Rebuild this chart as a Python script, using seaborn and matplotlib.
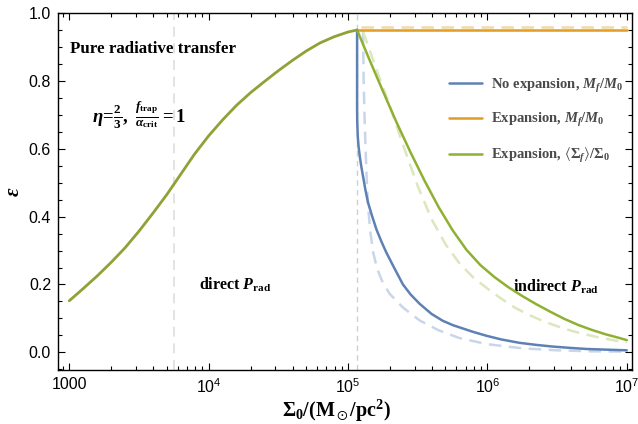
import numpy as np
import pandas as pd
import matplotlib
matplotlib.use("Agg")
import matplotlib.pyplot as plt
import seaborn as sns
from matplotlib.ticker import LogLocator, FixedLocator, MultipleLocator, NullFormatter

# ---------------- data (x given as log10 of Sigma_0) ----------------
rise_logx = [3.0, 3.1, 3.2, 3.3, 3.4, 3.5, 3.6, 3.7, 3.8, 3.9, 4.0, 4.1, 4.2, 4.3, 4.4,
             4.5, 4.6, 4.7, 4.8, 4.9, 5.0, 5.065]
rise_y = [0.152, 0.188, 0.225, 0.265, 0.308, 0.357, 0.410, 0.465, 0.525, 0.585, 0.638, 0.685,
          0.728, 0.765, 0.798, 0.830, 0.860, 0.888, 0.912, 0.930, 0.944, 0.950]

blue_logx = [5.065, 5.065, 5.065, 5.066, 5.070, 5.076, 5.084, 5.095, 5.108, 5.125, 5.143, 5.17,
             5.204, 5.24, 5.275, 5.33, 5.394, 5.45, 5.514, 5.6, 5.68, 5.753, 5.9, 5.992, 6.1,
             6.231, 6.35, 6.47, 6.6, 6.709, 6.85, 7.0]
blue_y = [0.950, 0.800, 0.720, 0.680, 0.635, 0.605, 0.578, 0.548, 0.518, 0.478, 0.442, 0.405,
          0.362, 0.326, 0.294, 0.250, 0.200, 0.170, 0.143, 0.113, 0.093, 0.080, 0.060, 0.049,
          0.038, 0.028, 0.022, 0.017, 0.013, 0.010, 0.008, 0.006]

blue_d_logx = [5.108, 5.112, 5.118, 5.126, 5.135, 5.146, 5.160, 5.18, 5.21, 5.25, 5.30, 5.394,
               5.514, 5.65, 5.8, 6.0, 6.25, 6.5, 6.75, 7.0]
blue_d_y = [0.945, 0.800, 0.700, 0.600, 0.500, 0.420, 0.355, 0.295, 0.245, 0.205, 0.172, 0.132,
            0.094, 0.065, 0.042, 0.024, 0.012, 0.006, 0.003, 0.002]

orange_logx = [5.065, 7.0]
orange_y = [0.951, 0.951]
orange_d_logx = [5.09, 7.0]
orange_d_y = [0.958, 0.958]

green_logx = [5.065, 5.15, 5.25, 5.35, 5.45, 5.55, 5.65, 5.75, 5.85, 5.95, 6.05, 6.15, 6.25,
              6.35, 6.45, 6.55, 6.65, 6.75, 6.85, 6.95, 7.0]
green_y = [0.950, 0.866, 0.770, 0.676, 0.588, 0.505, 0.428, 0.360, 0.302, 0.257, 0.222, 0.192,
           0.166, 0.142, 0.120, 0.099, 0.081, 0.066, 0.053, 0.042, 0.036]

green_d_logx = [5.108, 5.2, 5.3, 5.4, 5.5, 5.6, 5.7, 5.8, 5.9, 6.0, 6.1, 6.2, 6.3, 6.4, 6.5,
                6.6, 6.7, 6.8, 6.9, 7.0]
green_d_y = [0.945, 0.838, 0.726, 0.605, 0.490, 0.392, 0.318, 0.262, 0.220, 0.188, 0.158, 0.131,
             0.110, 0.092, 0.077, 0.064, 0.053, 0.044, 0.036, 0.029]

vlines_x = [5600, 116000]

labels = [r"No expansion, $M_f/M_0$", r"Expansion, $M_f/M_0$",
          r"Expansion, $\langle\Sigma_f\rangle/\Sigma_0$"]
xtick_vals = [1000, 1e4, 1e5, 1e6, 1e7]
xtick_labels = ["1000", r"$\mathsf{10^{4}}$", r"$\mathsf{10^{5}}$", r"$\mathsf{10^{6}}$",
                r"$\mathsf{10^{7}}$"]
ytick_vals = [0.0, 0.2, 0.4, 0.6, 0.8, 1.0]


def sig(logx):
    return 10.0 ** np.asarray(logx)


# ---------------- style ----------------
sns.set_theme(style="white")
plt.rcParams["font.family"] = ["Liberation Sans", "DejaVu Sans"]
plt.rcParams["text.color"] = "black"
plt.rcParams["axes.labelcolor"] = "black"
plt.rcParams["mathtext.fontset"] = "custom"
plt.rcParams["mathtext.rm"] = "Liberation Serif:bold"
plt.rcParams["mathtext.bf"] = "Liberation Serif:bold"
plt.rcParams["mathtext.it"] = "Liberation Serif:italic:bold"
plt.rcParams["mathtext.sf"] = "Liberation Sans"
plt.rcParams["mathtext.fallback"] = "stix"

BLUE = "#5E81B5"
ORANGE = "#E19C24"
GREEN = "#8FB032"
OLIVE = "#8FA236"
LBLUE = "#C9D6EA"
LORANGE = "#F3D9A6"
LGREEN = "#DCE7BE"
DASH = (0, (5, 3))

fig = plt.figure(figsize=(6.38, 4.24), dpi=100)
ax = fig.add_axes([58 / 638, 1 - 370 / 424, (632 - 58) / 638, (370 - 13) / 424])

ax.axvline(vlines_x[0], color="#dedede", lw=1.2, ls=(0, (6, 4)), zorder=1)
ax.axvline(vlines_x[1], color="#cfcfcf", lw=1.0, ls=(0, (4, 3)), zorder=1)

lw = 1.8
# light dashed companions
for lx, ly, c in [(blue_d_logx, blue_d_y, LBLUE), (orange_d_logx, orange_d_y, LORANGE),
                  (green_d_logx, green_d_y, LGREEN)]:
    sns.lineplot(x=sig(lx), y=ly, ax=ax, color=c, lw=lw, estimator=None, sort=False, zorder=2)
    ax.lines[-1].set_linestyle(DASH)

# solid
sns.lineplot(x=sig(blue_logx), y=blue_y, ax=ax, color=BLUE, lw=lw, estimator=None, sort=False,
             label=labels[0], zorder=3)
sns.lineplot(x=sig(orange_logx), y=orange_y, ax=ax, color=ORANGE, lw=lw, estimator=None,
             sort=False, label=labels[1], zorder=3)
sns.lineplot(x=sig(green_logx), y=green_y, ax=ax, color=GREEN, lw=lw, estimator=None, sort=False,
             label=labels[2], zorder=4)
sns.lineplot(x=sig(rise_logx), y=rise_y, ax=ax, color=OLIVE, lw=lw + 0.2, estimator=None,
             sort=False, zorder=4)

ax.set_xscale("log")
ax.set_xlim(830, 1.09e7)
ax.set_ylim(-0.052, 1.0)

ax.xaxis.set_major_locator(FixedLocator(xtick_vals))
ax.set_xticklabels(xtick_labels)
ax.xaxis.set_minor_locator(LogLocator(base=10, subs=np.arange(2, 10), numticks=20))
ax.xaxis.set_minor_formatter(NullFormatter())
ax.yaxis.set_major_locator(FixedLocator(ytick_vals))
ax.set_yticklabels([f"{v:.1f}" for v in ytick_vals])
ax.yaxis.set_minor_locator(MultipleLocator(0.05))

ax.tick_params(which="both", direction="in", top=True, right=True, bottom=True, left=True,
               labelsize=11.5, colors="black", width=0.8, pad=5)
ax.tick_params(which="major", length=5)
ax.tick_params(which="minor", length=3)

for s in ax.spines.values():
    s.set_color("black")
    s.set_linewidth(1.0)

ax.set_xlabel(r"$\Sigma_0/(\mathrm{M}_\odot/\mathrm{pc}^2)$", fontsize=14.5, labelpad=4,
              color="black")
ax.xaxis.set_label_coords(0.485, -0.078)
ax.set_ylabel(r"$\epsilon$", fontsize=15, labelpad=4, color="black")

serif_b = dict(family=["Liberation Serif"], weight="bold", color="black")
ax.text(1020, 0.895, "Pure radiative transfer", fontsize=12.2, ha="left", va="center", **serif_b)
ax.text(1456, 0.698, r"$\eta\!=\!\frac{2}{3},\ \frac{f_\mathrm{trap}}{\alpha_\mathrm{crit}}=1$",
        fontsize=13.5, ha="left", va="center", **serif_b)
ax.text(8550, 0.198, r"direct $P_\mathrm{rad}$", fontsize=11.5, ha="left", va="center", **serif_b)
ax.text(1.52e6, 0.193, r"indirect $P_\mathrm{rad}$", fontsize=11.5, ha="left", va="center",
        **serif_b)

leg = ax.legend(loc="upper left", bbox_to_anchor=(0.681, 0.822), frameon=False, fontsize=10.5,
                handlelength=2.3, handletextpad=0.6, labelspacing=1.15, borderaxespad=0,
                borderpad=0)
for t in leg.get_texts():
    t.set_color("#4a4a4a")
    t.set_fontfamily(["Liberation Serif"])
    t.set_fontweight("bold")

fig.savefig("out.png", dpi=100)
